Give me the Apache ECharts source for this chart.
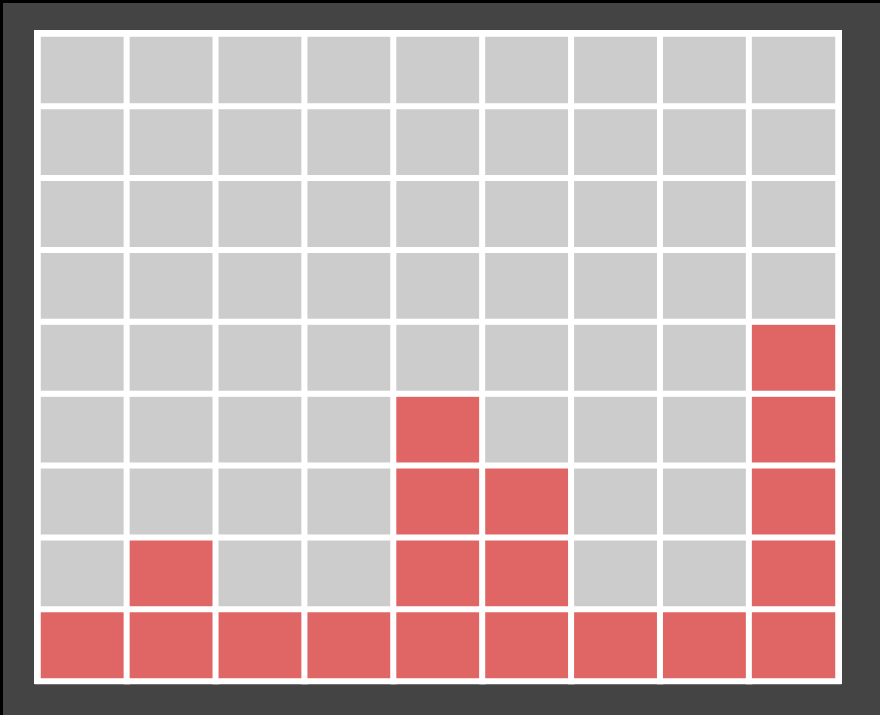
<!DOCTYPE html>
<html>
<head>
<meta charset="utf-8">
<script src="https://cdn.jsdelivr.net/npm/echarts@6/dist/echarts.min.js"></script>
<style>
  html, body { margin: 0; padding: 0; background: #000; }
  #main { position: absolute; left: 3px; top: 3px; width: 877px; height: 712px; }
</style>
</head>
<body>
<div id="main"></div>
<script>
// 9 columns, each filled from the bottom up to its height
const columns = ["1", "2", "3", "4", "5", "6", "7", "8", "9"];
const rows = ["1", "2", "3", "4", "5", "6", "7", "8", "9"];
const filledHeights = [1, 2, 1, 1, 4, 3, 1, 1, 5];

// cell table: [col, row, filled?]
let cells = [];
columns.forEach((c, i) => {
  rows.forEach((r, j) => {
    cells.push([i, j, j < filledHeights[i] ? 1 : 0]);
  });
});

let myChart = echarts.init(document.getElementById("main"));
let option = {
  backgroundColor: "#444444",
  animation: false,
  graphic: [
    {
      type: "rect",
      z: -1,
      shape: { x: 31, y: 27, width: 808, height: 654 },
      style: { fill: "#ffffff" },
    },
  ],
  grid: { left: 35, top: 31, width: 800, height: 647 },
  xAxis: {
    type: "category",
    data: columns,
    show: false,
  },
  yAxis: {
    type: "category",
    data: rows,
    show: false,
  },
  visualMap: {
    type: "piecewise",
    show: false,
    dimension: 2,
    pieces: [
      { value: 0, color: "#cccccc" },
      { value: 1, color: "#e06666" },
    ],
  },
  series: [
    {
      type: "heatmap",
      data: cells,
      itemStyle: {
        borderColor: "#ffffff",
        borderWidth: 6,
      },
      emphasis: { disabled: true },
    },
  ],
};
myChart.setOption(option);
</script>
</body>
</html>
